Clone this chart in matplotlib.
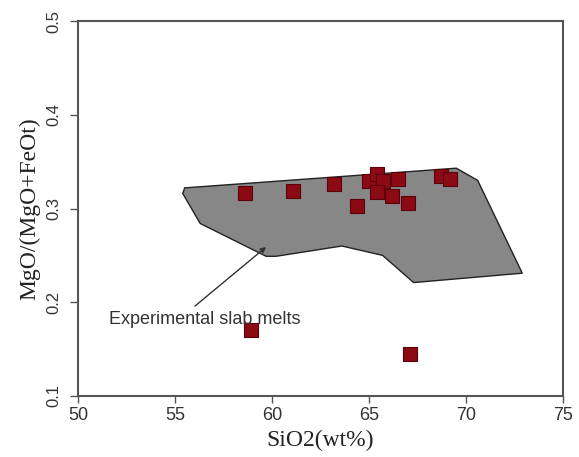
import matplotlib
matplotlib.use("Agg")
import matplotlib.pyplot as plt

# Experimental slab melts field (polygon)
field_x = [55.5, 69.5, 70.6, 72.9, 67.3, 65.7, 63.6, 60.2, 59.7, 56.3, 55.4]
field_y = [0.322, 0.343, 0.330, 0.231, 0.221, 0.250, 0.260, 0.249, 0.249, 0.284, 0.316]

# Samples
sio2 = [58.6, 61.1, 63.2, 64.4, 65.0, 65.4, 65.7, 65.4, 66.5, 66.2, 67.0, 68.7, 69.2, 58.9, 67.1]
mgno = [0.317, 0.319, 0.326, 0.303, 0.329, 0.337, 0.329, 0.318, 0.332, 0.313, 0.306, 0.335, 0.331, 0.170, 0.145]

xticks = [50, 55, 60, 65, 70, 75]
yticks = [0.1, 0.2, 0.3, 0.4, 0.5]

fig = plt.figure(figsize=(5.79, 4.57), dpi=100)
ax = fig.add_axes([0.1347, 0.1335, 0.8377, 0.8205])

ax.fill(field_x, field_y, facecolor="#878787", edgecolor="#222222", linewidth=1.0, zorder=1)
ax.plot(sio2, mgno, linestyle="none", marker="s", markersize=10.5,
        markerfacecolor="#8b0a14", markeredgecolor="#5a0008", markeredgewidth=0.8, zorder=3)

ax.annotate("Experimental slab melts", xy=(59.7, 0.259), xytext=(51.6, 0.182),
            fontsize=13, color="#333333", family="Liberation Sans", va="center",
            arrowprops=dict(arrowstyle="-|>", color="#333333", lw=1.0, mutation_scale=8,
                            shrinkA=2, shrinkB=0, relpos=(0.42, 1.0)))

ax.set_xlim(50, 75)
ax.set_ylim(0.1, 0.5)
ax.set_xticks(xticks)
ax.set_yticks(yticks)
ax.set_xticklabels([str(t) for t in xticks], family="Liberation Sans", fontsize=13, color="#333333")
ax.set_yticklabels([f"{t:.1f}" for t in yticks], family="Liberation Sans", fontsize=12,
                   color="#333333", rotation=90, va="center")
ax.tick_params(axis="x", direction="out", length=5, width=1, color="#555555", pad=3)
ax.tick_params(axis="y", direction="out", length=6, width=1, color="#555555", pad=6)
for s in ax.spines.values():
    s.set_color("#555555")
    s.set_linewidth(1.5)

ax.set_xlabel("SiO2(wt%)", family="Liberation Serif", fontsize=17, color="#222222", labelpad=4)
ax.set_ylabel("MgO/(MgO+FeOt)", family="Liberation Serif", fontsize=17, color="#222222", labelpad=4)

fig.savefig("out.png", dpi=100)
